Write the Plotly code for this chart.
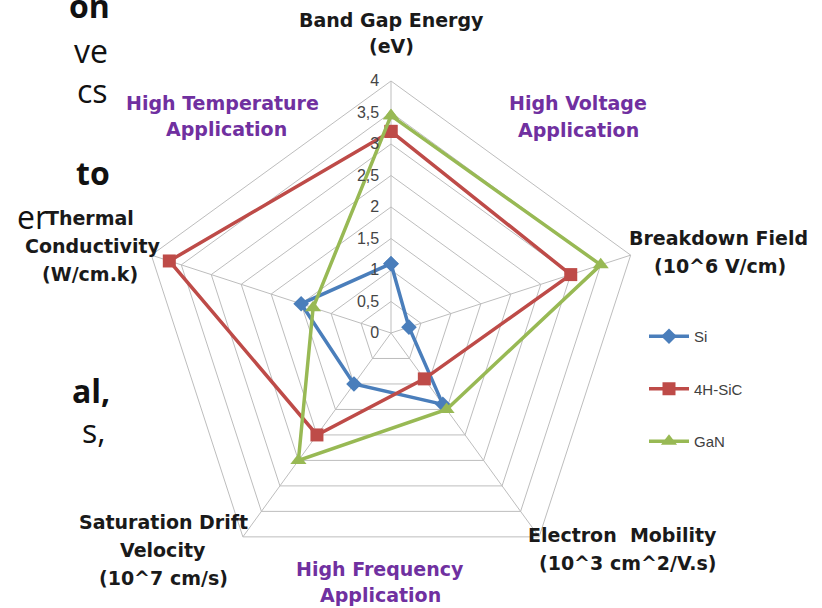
import plotly.graph_objects as go

categories = ["Band Gap Energy", "Breakdown Field", "Electron Mobility",
              "Saturation Drift Velocity", "Thermal Conductivity"]
si_values = [1.1, 0.3, 1.4, 1.0, 1.5]
sic_values = [3.2, 3.0, 0.9, 2.0, 3.7]
gan_values = [3.45, 3.5, 1.5, 2.5, 1.3]
tick_vals = [0, 0.5, 1, 1.5, 2, 2.5, 3, 3.5, 4]
tick_text = ["0", "0,5", "1", "1,5", "2", "2,5", "3", "3,5", "4"]

W, H = 822, 608
def px(x):
    return x / W
def py(y):
    return 1 - y / H

fig = go.Figure()
series = [
    ("Si", si_values, "#4a7ebb", "diamond", 12),
    ("4H-SiC", sic_values, "#be4b48", "square", 13),
    ("GaN", gan_values, "#98b954", "triangle-up", 14),
]
for name, vals, col, sym, sz in series:
    fig.add_trace(go.Scatterpolar(
        r=vals + vals[:1], theta=categories + categories[:1],
        mode="lines+markers", name=name, legendgroup=name,
        line=dict(color=col, width=3.5),
        marker=dict(symbol=sym, size=sz, color=col),
    ))

grid = "#bdbdbd"
cx, cy, R = 391, 333, 252
fig.update_layout(
    width=W, height=H, margin=dict(l=0, r=0, t=0, b=0),
    paper_bgcolor="white", plot_bgcolor="white",
    polar=dict(
        domain=dict(x=[px(cx - R), px(cx + R)], y=[py(cy + R), py(cy - R)]),
        gridshape="linear", bgcolor="white",
        radialaxis=dict(range=[0, 4], tickvals=tick_vals,
                        ticktext=[t + "\u00a0\u00a0" for t in tick_text],
                        angle=90, tickangle=90, side="counterclockwise",
                        showline=False, gridcolor=grid, gridwidth=1, ticks="",
                        tickfont=dict(family="Liberation Sans", size=16, color="#454545")),
        angularaxis=dict(rotation=90, direction="clockwise", showticklabels=False,
                         ticks="", showline=True, linecolor=grid, linewidth=1,
                         gridcolor=grid, gridwidth=1),
    ),
    showlegend=True,
    legend=dict(x=px(644), y=py(320), xanchor="left", yanchor="top",
                tracegroupgap=30, itemwidth=40, bgcolor="rgba(0,0,0,0)",
                font=dict(family="Liberation Sans", size=15, color="#404040")),
)

lab = dict(family="DejaVu Sans", size=19, color="#1a1a1a")
purple = dict(family="DejaVu Sans", size=19, color="#7030a0")
def ann(text, x, y, font, xanchor="center"):
    fig.add_annotation(text=text, x=px(x), y=py(y), xref="paper", yref="paper",
                       showarrow=False, font=font, xanchor=xanchor, yanchor="middle",
                       align="center")

ann("<b>Band Gap Energy</b>", 391, 20, lab)
ann("<b>(eV)</b>", 391, 46, lab)
ann("<b>Breakdown Field</b>", 718, 238, lab)
ann("<b>(10^6 V/cm)</b>", 720, 266, lab)
ann("<b>Electron  Mobility</b>", 622, 535, lab)
ann("<b>(10^3 cm^2/V.s)</b>", 628, 563, lab)
ann("<b>Saturation Drift</b>", 163, 522, lab)
ann("<b>Velocity</b>", 163, 550, lab)
ann("<b>(10^7 cm/s)</b>", 163, 578, lab)
ann("<b>Thermal</b>", 90, 218, lab)
ann("<b>Conductivity</b>", 92, 246, lab)
ann("<b>(W/cm.k)</b>", 90, 274, lab)
ann("<b>High Temperature</b>", 222, 103, purple)
ann("<b>Application</b>", 226, 129, purple)
ann("<b>High Voltage</b>", 578, 103, purple)
ann("<b>Application</b>", 578, 130, purple)
ann("<b>High Frequency</b>", 380, 569, purple)
ann("<b>Application</b>", 380, 595, purple)

side = dict(family="Open Sans", size=32, color="#111111")
for t, x, y in [("<b>on</b>", 112, 6), ("ve", 110, 50), ("cs", 110, 90),
                ("<b>to</b>", 112, 172), ("er", 50, 216),
                ("<b>al,</b>", 112, 390), ("s,", 108, 430)]:
    ann(t, x, y, side, xanchor="right")

fig.write_html("out.html", post_script="document.body.style.margin='0px';",
               config={"displayModeBar": False})
